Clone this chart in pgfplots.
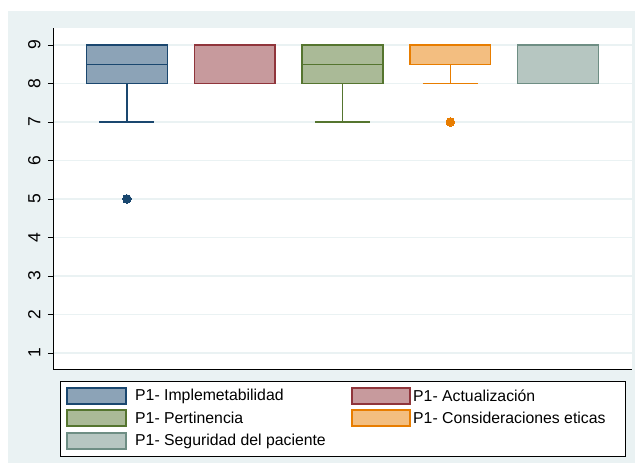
\documentclass[border=0pt]{standalone}
\usepackage{pgfplots}
\pgfplotsset{compat=1.18}
\usepgfplotslibrary{statistics}
\usepackage{fontspec}
\setmainfont{Liberation Sans}
\definecolor{bg}{RGB}{234,242,243}
\definecolor{gridc}{RGB}{234,242,243}
\definecolor{snavy}{RGB}{26,71,111}
\definecolor{smaroon}{RGB}{144,53,59}
\definecolor{sgreen}{RGB}{85,117,47}
\definecolor{sorange}{RGB}{232,125,0}
\definecolor{steal}{RGB}{110,142,132}
\begin{document}
\begin{tikzpicture}[x=1pt,y=1pt,font=\fontsize{15.8}{18}\selectfont]
\fill[white] (0,0) rectangle (635,468);
\fill[bg] (8,5) rectangle (635,457);
\begin{axis}[at={(54pt,98pt)}, anchor=south west, scale only axis,
  width=578pt, height=342pt,
  xmin=0.324, xmax=5.685, ymin=0.558, ymax=9.442,
  axis background/.style={fill=white},
  axis x line=bottom, axis y line=left,
  axis line style={-, line width=1pt, black},
  xtick=\empty, ytick={1,2,3,4,5,6,7,8,9},
  ymajorgrids, grid style={gridc, line width=1.2pt},
  tick align=outside, major tick length=6pt,
  tick style={black, line width=0.8pt},
  tick label style={font=\fontsize{17.5}{20}\selectfont},
  yticklabel style={rotate=90, anchor=south, yshift=4pt},
  /pgf/number format/assume math mode=true,
  boxplot/draw direction=y,
  boxplot/box extend=0.75, boxplot/whisker extend=0.51,
]
\addplot[boxplot prepared={draw position=1, median=8.5, lower quartile=8, upper quartile=9, lower whisker=7, upper whisker=9},
  draw=snavy, fill=snavy!50, line width=1.4pt, mark=*, mark size=4.3pt, mark options={fill=snavy, draw=snavy, line width=0pt}]
  table[row sep=\\, y index=0] {5\\};
\addplot[boxplot prepared={draw position=2, median=9, lower quartile=8, upper quartile=9, lower whisker=8, upper whisker=9},
  draw=smaroon, fill=smaroon!50, line width=1.4pt] coordinates {};
\addplot[boxplot prepared={draw position=3, median=8.5, lower quartile=8, upper quartile=9, lower whisker=7, upper whisker=9},
  draw=sgreen, fill=sgreen!50, line width=1.4pt] coordinates {};
\addplot[boxplot prepared={draw position=4, median=9, lower quartile=8.5, upper quartile=9, lower whisker=8, upper whisker=9},
  draw=sorange, fill=sorange!50, line width=1.4pt, mark=*, mark size=4.3pt, mark options={fill=sorange, draw=sorange, line width=0pt}]
  table[row sep=\\, y index=0] {7\\};
\addplot[boxplot prepared={draw position=5, median=9, lower quartile=8, upper quartile=9, lower whisker=8, upper whisker=9},
  draw=steal, fill=steal!50, line width=1.4pt] coordinates {};
\end{axis}
% legend
\draw[black, line width=0.8pt, fill=white] (60,12) rectangle (625,87);
\draw[snavy, fill=snavy!50, line width=1.2pt] (67,64) rectangle (126,80);
\node[anchor=west, inner sep=0pt] at (135,72) {P1- Implemetabilidad};
\draw[smaroon, fill=smaroon!50, line width=1.2pt] (352,64) rectangle (410,80);
\node[anchor=west, inner sep=0pt] at (413,72) {P1- Actualización};
\draw[sgreen, fill=sgreen!50, line width=1.2pt] (67,42) rectangle (126,58);
\node[anchor=west, inner sep=0pt] at (135,50) {P1- Pertinencia};
\draw[sorange, fill=sorange!50, line width=1.2pt] (352,42) rectangle (410,58);
\node[anchor=west, inner sep=0pt] at (413,50) {P1- Consideraciones eticas};
\draw[steal, fill=steal!50, line width=1.2pt] (67,19) rectangle (126,35);
\node[anchor=west, inner sep=0pt] at (135,27) {P1- Seguridad del paciente};
\end{tikzpicture}
\end{document}
